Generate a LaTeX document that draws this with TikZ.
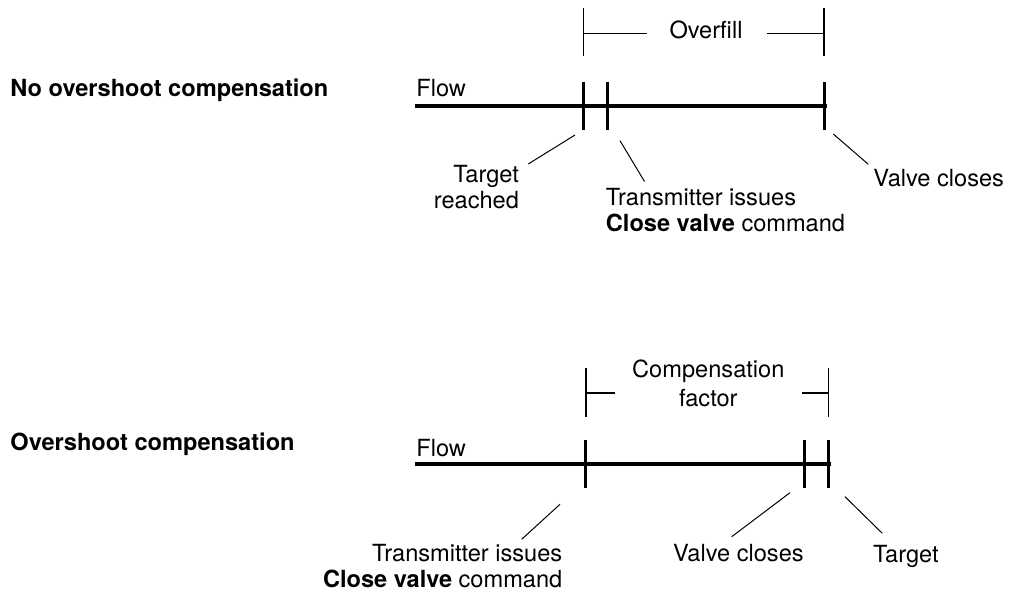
\documentclass[tikz,border=0pt]{standalone}
\usepackage{fontspec}
\setmainfont{TeX Gyre Heros}
\usepackage{tikz}

\begin{document}
\begin{tikzpicture}[x=0.5pt,y=-0.5pt,
  every node/.style={inner sep=0pt,font=\fontsize{11.8}{12.7}\selectfont},
  title node/.style={anchor=base west,font=\fontsize{11.8}{12.7}\selectfont\bfseries},
  flow line/.style={line width=2pt},
  tick line/.style={line width=1.5pt},
  span line/.style={line width=0.8pt},
  leader line/.style={line width=0.5pt}]
  \useasboundingbox (0,0) rectangle (1009,594);

  % no overshoot compensation
  \node[title node] (title1) at (10,96.5) {No overshoot compensation};
  \node[anchor=base west] (flow1) at (416,96.7) {Flow};
  \node[anchor=base] (over) at (706,39) {Overfill};
  \node[anchor=base east,align=right] (reach) at (519.3,208) {Target\\reached};
  \node[anchor=base west,align=left] (cmd1) at (605.5,231) {Transmitter issues\\\textbf{Close valve} command};
  \node[anchor=base west] (close1) at (873,186) {Valve closes};

  \coordinate (s1) at (415,106);
  \coordinate (e1) at (826.5,106);
  \coordinate (k11) at (583.3,106);
  \coordinate (k12) at (607.3,106);
  \coordinate (k13) at (824,106);

  \draw[flow line] (s1) -- (e1);
  \foreach \k in {k11,k12,k13}
    \draw[tick line] ([yshift=12pt]\k) -- ([yshift=-12pt]\k);

  \draw[span line] (583.3,8.3) -- (583.3,56) (824,8.3) -- (824,56);
  \draw[span line] (583.3,33.3) -- (646.7,33.3) (766.7,33.3) -- (824,33.3);

  \coordinate (p11) at (575,135);
  \coordinate (q11) at (528.3,164);
  \coordinate (p12) at (620,140.7);
  \coordinate (q12) at (644.5,181.5);
  \coordinate (p13) at (833.3,134);
  \coordinate (q13) at (868.3,164.3);
  \path[leader line]
    (p11) edge (q11)
    (p12) edge (q12)
    (p13) edge (q13);

  % overshoot compensation
  \node[title node] (title2) at (10,450) {Overshoot compensation};
  \node[anchor=base west] (flow2) at (416,456.7) {Flow};
  \node[anchor=base,align=center,font=\fontsize{11.8}{14.7}\selectfont] (comp) at (708.3,406.7) {Compensation\\factor};
  \node[anchor=base east,align=right] (cmd2) at (562.7,587.3) {Transmitter issues\\\textbf{Close valve} command};
  \node[anchor=base west] (close2) at (672.7,561.7) {Valve closes};
  \node[anchor=base west] (target) at (872.7,562.7) {Target};

  \coordinate (s2) at (415,464.3);
  \coordinate (e2) at (830.7,464.3);
  \coordinate (k21) at (585.7,464.3);
  \coordinate (k22) at (804.3,464.3);
  \coordinate (k23) at (828.3,464.3);

  \draw[flow line] (s2) -- (e2);
  \foreach \k in {k21,k22,k23}
    \draw[tick line] ([yshift=12pt]\k) -- ([yshift=-12pt]\k);

  \draw[span line] (585.7,368.3) -- (585.7,416.7) (828.3,368.3) -- (828.3,416.7);
  \draw[span line] (585.7,392.7) -- (615,392.7) (802.3,392.7) -- (828.3,392.7);

  \coordinate (p21) at (560,504.3);
  \coordinate (q21) at (521.7,539.3);
  \coordinate (p22) at (790,492.7);
  \coordinate (q22) at (731.7,536.7);
  \coordinate (p23) at (845,496.7);
  \coordinate (q23) at (882.3,533.3);
  \path[leader line]
    (p21) edge (q21)
    (p22) edge (q22)
    (p23) edge (q23);
\end{tikzpicture}
\end{document}
